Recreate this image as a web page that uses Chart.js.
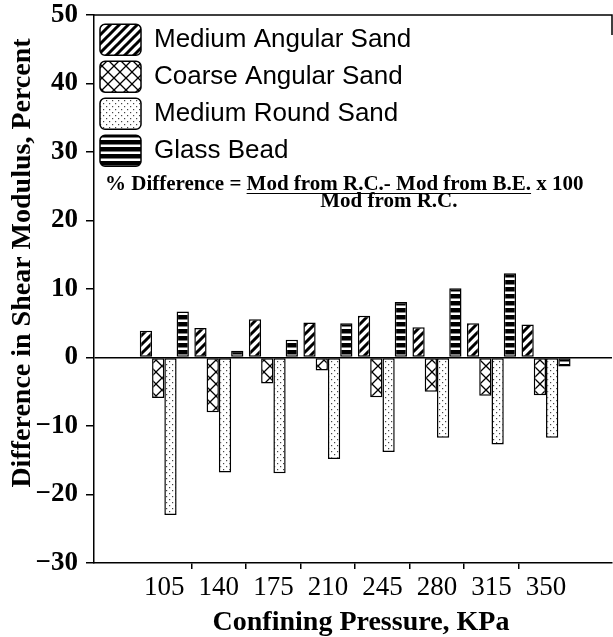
<!DOCTYPE html>
<html>
<head>
<meta charset="utf-8">
<script src="https://cdn.jsdelivr.net/npm/chart.js@4.4.1/dist/chart.umd.min.js"></script>
<style>
  html, body { margin: 0; padding: 0; background: #fff; }
</style>
</head>
<body>
<canvas id="shear-chart" width="613" height="637"></canvas>
<script>
const categories = ["105", "140", "175", "210", "245", "280", "315", "350"];
const mediumAngular = [3.9, 4.3, 5.6, 5.1, 6.1, 4.4, 5.0, 4.8];
const coarseAngular = [-5.9, -8.0, -3.8, -1.9, -5.8, -5.0, -5.6, -5.5];
const mediumRound = [-23.0, -16.8, -16.9, -14.8, -13.8, -11.7, -12.7, -11.7];
const glassBead = [6.7, 1.0, 2.6, 5.0, 8.1, 10.1, 12.3, -1.3];
const yTicks = [-30, -20, -10, 0, 10, 20, 30, 40, 50];

const yTitle = "Difference in Shear Modulus, Percent";
const xTitle = "Confining Pressure, KPa";

// hatch fills, one small tile each
const makePattern = (kind) => {
  const c = document.createElement("canvas");
  const g = c.getContext("2d");
  const size = { diag: 9, cross: 12, dots: 6, hbar: 7 }[kind];
  c.width = size;
  c.height = size;
  g.fillStyle = "#fff";
  g.fillRect(0, 0, size, size);
  g.strokeStyle = "#000";
  g.fillStyle = "#000";
  if (kind === "diag") {
    g.lineWidth = 3;
    g.beginPath();
    g.moveTo(-1, size + 1);
    g.lineTo(size + 1, -1);
    g.moveTo(-2, 2);
    g.lineTo(2, -2);
    g.moveTo(size - 2, size + 2);
    g.lineTo(size + 2, size - 2);
    g.stroke();
  } else if (kind === "cross") {
    g.lineWidth = 1.3;
    g.beginPath();
    g.moveTo(0, 0);
    g.lineTo(size, size);
    g.moveTo(0, size);
    g.lineTo(size, 0);
    g.stroke();
  } else if (kind === "dots") {
    g.fillStyle = "#444";
    g.fillRect(1, 1, 1.2, 1.2);
    g.fillRect(4, 4, 1.2, 1.2);
  } else {
    g.fillRect(0, 0, size, 4.5);
  }
  return g.createPattern(c, "repeat");
};

const annotate = {
  id: "annotate",
  afterDraw(chart) {
    const { ctx, chartArea: a } = chart;
    ctx.save();
    ctx.strokeStyle = "#000";
    ctx.lineWidth = 1.5;
    ctx.beginPath();
    ctx.moveTo(a.left, a.top);
    ctx.lineTo(a.right, a.top);
    ctx.lineTo(a.right, a.top + 20);
    ctx.stroke();

    ctx.fillStyle = "#000";
    ctx.font = 'bold 28px "Liberation Serif"';
    ctx.textAlign = "center";
    ctx.textBaseline = "middle";
    ctx.save();
    ctx.translate(23, 263);
    ctx.rotate(-Math.PI / 2);
    ctx.fillText(yTitle, 0, 0);
    ctx.restore();
    ctx.fillText(xTitle, 361, 623);

    // formula
    ctx.font = 'bold 21px "Liberation Serif"';
    ctx.textAlign = "left";
    ctx.textBaseline = "alphabetic";
    const prefix = "% Difference = ";
    const num = "Mod from R.C.- Mod from B.E.";
    const den = "Mod from R.C.";
    const x0 = 105;
    const y0 = 190;
    ctx.fillText(prefix, x0, y0);
    const nx = x0 + ctx.measureText(prefix).width;
    const nw = ctx.measureText(num).width;
    ctx.fillText(num, nx, y0);
    ctx.fillText(" x 100", nx + nw, y0);
    ctx.lineWidth = 1.2;
    ctx.beginPath();
    ctx.moveTo(nx, y0 + 3.5);
    ctx.lineTo(nx + nw, y0 + 3.5);
    ctx.stroke();
    ctx.textAlign = "center";
    ctx.fillText(den, nx + nw / 2, y0 + 17);
    ctx.restore();
  },
};

window.onload = () => {
  Chart.defaults.font.family = "Liberation Serif";
  Chart.defaults.color = "#000";

  const patterns = {
    diag: makePattern("diag"),
    cross: makePattern("cross"),
    dots: makePattern("dots"),
    hbar: makePattern("hbar"),
  };
  const series = [
    { label: "Medium Angular Sand", values: mediumAngular, fill: patterns.diag },
    { label: "Coarse Angular Sand", values: coarseAngular, fill: patterns.cross },
    { label: "Medium Round Sand", values: mediumRound, fill: patterns.dots },
    { label: "Glass Bead", values: glassBead, fill: patterns.hbar },
  ];

  const ctx = document.getElementById("shear-chart");
  new Chart(ctx, {
    type: "bar",
    data: {
      datasets: series.map(({ label, values, fill }) => ({
        label,
        data: values.map((y, i) => ({ x: i, y })),
        backgroundColor: fill,
        borderColor: "#000",
        borderWidth: 1.5,
        borderSkipped: false,
        categoryPercentage: 0.9,
        barPercentage: 1.0,
      })),
    },
    options: {
      responsive: false,
      animation: false,
      devicePixelRatio: 1,
      layout: { padding: { top: 15, right: 1, bottom: 0, left: 0 } },
      plugins: {
        tooltip: { enabled: false },
        legend: {
          position: "chartArea",
          align: "start",
          // empty title just pushes the items below the frame line
          title: { display: true, text: "", padding: 8.5, font: { size: 1 } },
          labels: {
            boxWidth: 41,
            boxHeight: 31,
            padding: 6,
            color: "#000",
            useBorderRadius: true,
            borderRadius: 5,
            font: { family: "Liberation Sans", size: 26 },
          },
        },
      },
      scales: {
        x: {
          type: "linear",
          bounds: "data",
          min: -1.29,
          max: 8.21,
          offset: false,
          afterBuildTicks: (axis) => {
            axis.ticks = categories.map((c, i) => ({ value: i }));
          },
          afterFit: (axis) => {
            axis.height = 74;
          },
          ticks: {
            autoSkip: false,
            maxRotation: 0,
            padding: 5,
            color: "#000",
            font: { size: 27, lineHeight: 1 },
            callback: (v) => categories[v] ?? "",
          },
          grid: {
            offset: true,
            drawOnChartArea: false,
            tickLength: 6,
            lineWidth: 1.5,
            color: (c) => (c.index > 0 && c.index < categories.length ? "#000" : "rgba(0,0,0,0)"),
            tickColor: (c) => (c.index > 0 && c.index < categories.length ? "#000" : "rgba(0,0,0,0)"),
          },
          border: { color: "#000", width: 1.5 },
        },
        y: {
          min: -30,
          max: 50,
          bounds: "data",
          afterBuildTicks: (axis) => {
            axis.ticks = yTicks.map((v) => ({ value: v }));
          },
          afterFit: (axis) => {
            axis.width = 94;
            axis.paddingTop = 0;
            axis.paddingBottom = 0;
          },
          ticks: {
            padding: 8,
            color: "#000",
            font: { size: 27, weight: "bold", lineHeight: 1 },
            callback: (v) => String(v).replace("-", "\u2212"),
          },
          grid: {
            drawOnChartArea: true,
            tickLength: 8,
            lineWidth: 1.5,
            color: (c) => (c.tick && c.tick.value === 0 ? "#000" : "rgba(0,0,0,0)"),
            tickColor: "#000",
          },
          border: { color: "#000", width: 1.5 },
        },
      },
    },
    plugins: [annotate],
  });
};
</script>
</body>
</html>
